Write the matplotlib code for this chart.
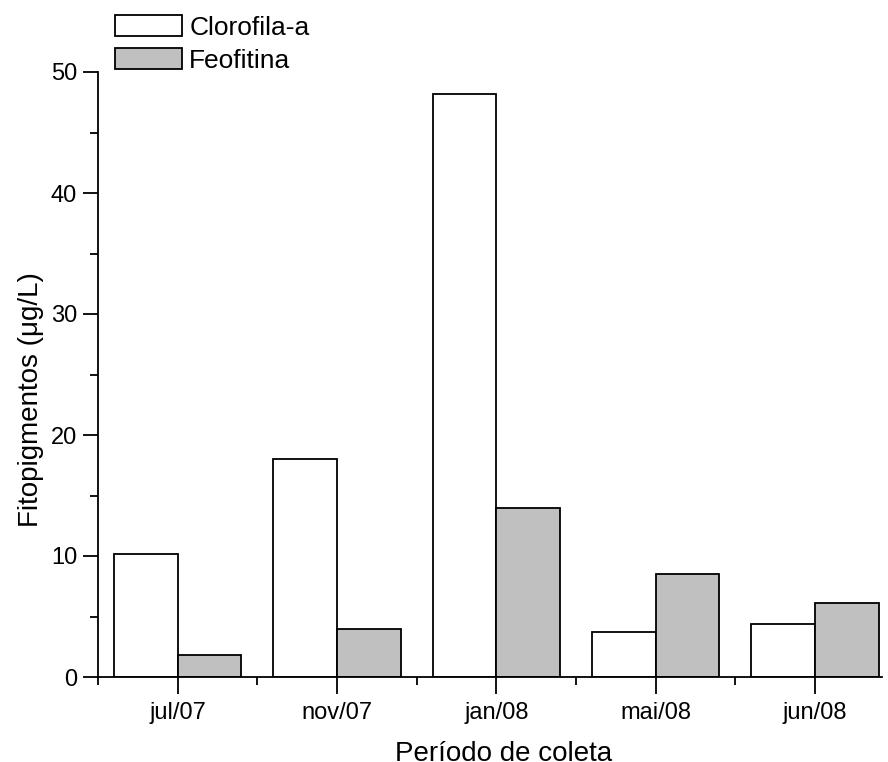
import matplotlib
matplotlib.use("Agg")
import matplotlib.pyplot as plt
from matplotlib.patches import Patch
from matplotlib.ticker import MultipleLocator, FixedLocator
import numpy as np

plt.rcParams['font.family'] = ['Liberation Sans', 'DejaVu Sans']

periods = ["jul/07", "nov/07", "jan/08", "mai/08", "jun/08"]
clorofila = [10.2, 18.0, 48.2, 3.75, 4.4]
feofitina = [1.85, 3.95, 13.95, 8.5, 6.15]

fig = plt.figure(figsize=(8.88, 7.62), dpi=100)
ax = fig.add_axes([98/888, 85/762, (882-98)/888, (677-72)/762])

x = np.arange(1, len(periods) + 1)
w = 0.4
ax.bar(x - w/2, clorofila, width=w, color="white", edgecolor="black", linewidth=1.3, label="Clorofila-a")
ax.bar(x + w/2, feofitina, width=w, color="#c0c0c0", edgecolor="black", linewidth=1.3, label="Feofitina")

ax.set_xlim(0.5, 5.42)
ax.set_ylim(0, 50)
ax.set_xticks(x)
ax.set_xticklabels(periods)
ax.xaxis.set_minor_locator(FixedLocator(np.arange(0.5, 5.0, 1.0)))
ax.yaxis.set_major_locator(MultipleLocator(10))
ax.yaxis.set_minor_locator(MultipleLocator(5))

for s in ("top", "right"):
    ax.spines[s].set_visible(False)
for s in ("left", "bottom"):
    ax.spines[s].set_linewidth(1.3)

ax.tick_params(axis="x", which="major", direction="out", length=12, width=1.3, labelsize=17, pad=6)
ax.tick_params(axis="x", which="minor", direction="out", length=6, width=1.3)
ax.tick_params(axis="y", which="major", direction="out", length=11, width=1.3, labelsize=17, pad=4)
ax.tick_params(axis="y", which="minor", direction="out", length=6, width=1.3)

ax.set_xlabel("Período de coleta", fontsize=20)
ax.set_ylabel("Fitopigmentos (\u03bcg/L)", fontsize=20)
ax.xaxis.set_label_coords(0.517, -0.105)
ax.yaxis.set_label_coords(-0.069, 0.458)

handles = [Patch(facecolor="white", edgecolor="black", linewidth=1.3, label="Clorofila-a"),
           Patch(facecolor="#c0c0c0", edgecolor="black", linewidth=1.3, label="Feofitina")]
fig.legend(handles=handles, loc="upper left", bbox_to_anchor=(115/888, 1 - 15/762),
           bbox_transform=fig.transFigure, frameon=False, fontsize=19,
           handlelength=2.55, handleheight=0.83, handletextpad=0.26,
           labelspacing=0.33, borderpad=0, borderaxespad=0)

fig.savefig("out.png", dpi=100)
